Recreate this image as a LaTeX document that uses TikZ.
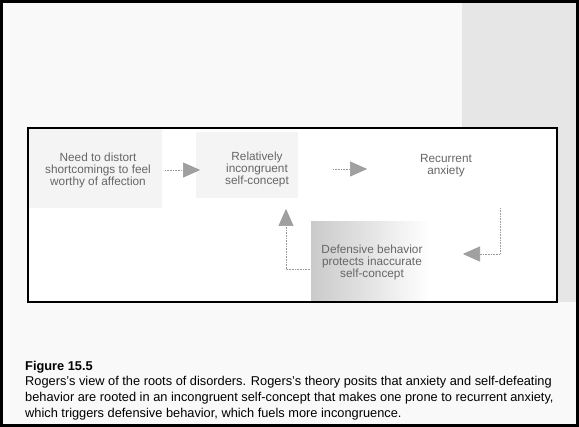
\documentclass[tikz,border=0pt]{standalone}
\usepackage{fontspec}
\setmainfont{Liberation Sans}
\usetikzlibrary{arrows.meta, positioning, calc}
\definecolor{inkgrey}{HTML}{666666}
\definecolor{tipgrey}{HTML}{A0A0A0}
\definecolor{dotgrey}{HTML}{999999}
\definecolor{speckle}{HTML}{E6E6E6}
\definecolor{shadegrey}{HTML}{CACACA}

\begin{document}
\begin{tikzpicture}[x=1pt, y=-1pt,
  t/.style={text=inkgrey, font=\fontsize{11.8}{12}\selectfont, align=center, inner sep=0pt},
  a/.style={-{Triangle[length=17pt, width=15pt, fill=tipgrey]}, densely dotted, dotgrey, line width=0.6pt},
  c/.style={anchor=base west, inner sep=0pt, font=\fontsize{12.8}{15.5}\selectfont}]
\useasboundingbox (0,0) rectangle (579,427);
% stippled patches
\fill[speckle!25] (2,2) rectangle (577,425);
\fill[white] (28,128) rectangle (557,302);
\fill[speckle] (462,2) rectangle (577,128);
\fill[speckle] (557,128) rectangle (577,302);
\fill[speckle!45] (29,129) rectangle (162,208);
\fill[speckle!45] (196,132) rectangle (298,198);
\shade[left color=shadegrey, right color=white] (311,222) rectangle (430,301);
% frames
\draw[line width=3pt] (1.5,1.5) rectangle (577.5,425.5);
\draw[line width=1.2pt] (28,128) rectangle (557,302);
% boxes
\node[t] (need) at (98,170) {Need to distort\\shortcomings to feel\\worthy of affection};
\node[t] (incong) at (257,169) {Relatively\\incongruent\\self-concept};
\node[t] (anx) at (446,166) {Recurrent\\anxiety};
\node[t] (defend) at (372,262) {Defensive behavior\\protects inaccurate\\self-concept};
% arrows
\coordinate (n1) at (165,170);
\coordinate (n2) at (200,170);
\draw[a] (n1) -- (n2);
\coordinate (i1) at (333,169);
\coordinate (i2) at (367,169);
\draw[a] (i1) -- (i2);
\coordinate (rdrop) at (500,208);
\coordinate (rtip) at (463,254);
\draw[a] (rdrop) |- (rtip);
\coordinate (ldrop) at (310,269);
\coordinate (ltip) at (286,209);
\draw[a] (ldrop) -| (ltip);
% caption
\node[c, font=\bfseries\fontsize{12.8}{15.5}\selectfont] (fig) at (25,371) {Figure 15.5};
\node[c] (cap1) at (25,386) {Rogers's view of the roots of disorders. Rogers's theory posits that anxiety and self-defeating};
\node[c] (cap2) at (25,402) {behavior are rooted in an incongruent self-concept that makes one prone to recurrent anxiety,};
\node[c] (cap3) at (25,418) {which triggers defensive behavior, which fuels more incongruence.};
\end{tikzpicture}
\end{document}
